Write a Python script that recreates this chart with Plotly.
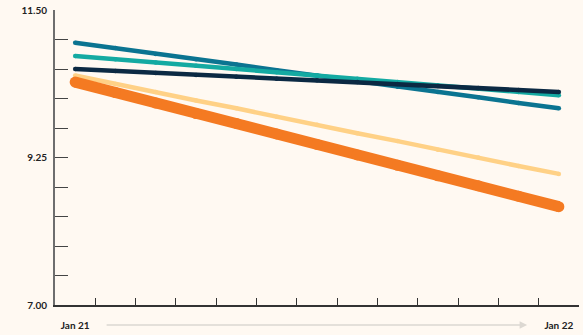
import plotly.graph_objects as go

# Monthly categories, Jan 21 through Jan 22
months = ["Jan 21", "Feb 21", "Mar 21", "Apr 21", "May 21", "Jun 21", "Jul 21",
          "Aug 21", "Sep 21", "Oct 21", "Nov 21", "Dec 21", "Jan 22"]
month_labels = ["Jan 21"] + [""] * 11 + ["Jan 22"]

# Series values
light_orange = [10.50, 10.37, 10.25, 10.12, 10.00, 9.87, 9.75, 9.62, 9.50, 9.37, 9.25, 9.12, 9.00]
orange = [10.40, 10.24, 10.08, 9.92, 9.77, 9.61, 9.45, 9.29, 9.13, 8.97, 8.82, 8.66, 8.50]
dark_teal = [11.00, 10.92, 10.83, 10.75, 10.67, 10.58, 10.50, 10.42, 10.33, 10.25, 10.17, 10.08, 10.00]
turquoise = [10.80, 10.75, 10.70, 10.65, 10.60, 10.55, 10.50, 10.45, 10.40, 10.35, 10.30, 10.25, 10.20]
navy = [10.60, 10.57, 10.54, 10.51, 10.48, 10.45, 10.43, 10.40, 10.37, 10.34, 10.31, 10.28, 10.25]

# Y ticks: every 0.45, labelled only at the ends and the midpoint
y_ticks = [7.00, 7.45, 7.90, 8.35, 8.80, 9.25, 9.70, 10.15, 10.60, 11.05, 11.50]
y_tick_labels = ["7.00", "", "", "", "", "9.25", "", "", "", "", "11.50"]

series = [
    (light_orange, "#ffd186", 4.5),
    (orange, "#f47a22", 11),
    (dark_teal, "#0b7491", 4.5),
    (turquoise, "#14aaa2", 4.5),
    (navy, "#0b2943", 4.5),
]

fig = go.Figure()
for vals, color, width in series:
    fig.add_trace(go.Scatter(
        x=months, y=vals, mode="lines+markers",
        line=dict(color=color, width=width),
        marker=dict(color=color, size=width),
        hoverinfo="skip", showlegend=False,
    ))

bg = "#fff9f2"
fig.update_layout(
    width=583, height=335,
    margin=dict(l=55, r=4, t=10, b=30),
    paper_bgcolor=bg, plot_bgcolor=bg,
    font=dict(family="Lato, 'Open Sans', sans-serif", size=10, color="#222"),
    xaxis=dict(
        type="category", categoryorder="array", categoryarray=months,
        range=[-0.5, 12.5],
        tickmode="array", tickvals=months, ticktext=month_labels,
        tickson="boundaries", ticks="inside", ticklen=7, tickwidth=1.3, tickcolor="#333",
        showline=True, linecolor="#333", linewidth=1.5,
        showgrid=False, zeroline=False,
        tickfont=dict(family="Lato, sans-serif", size=10, color="#222", weight="bold"),
        ticklabelstandoff=10,
    ),
    yaxis=dict(
        range=[7.0, 11.5],
        tickmode="array", tickvals=y_ticks, ticktext=y_tick_labels,
        ticks="inside", ticklen=13, tickwidth=1.3, tickcolor="#444",
        showline=True, linecolor="#6e6e6e", linewidth=1.8,
        showgrid=False, zeroline=False,
        tickfont=dict(family="Lato, sans-serif", size=10, color="#222", weight="bold"),
        ticklabelstandoff=4,
    ),
)

# Time-direction arrow between the two month labels
fig.add_annotation(
    x=0.901, y=-0.068, xref="paper", yref="paper",
    ax=-422, ay=0, axref="pixel", ayref="pixel",
    text="", showarrow=True, arrowhead=2, arrowsize=1, arrowwidth=1.5,
    arrowcolor="#dcd8d2",
)

fig.write_html("out.html")
